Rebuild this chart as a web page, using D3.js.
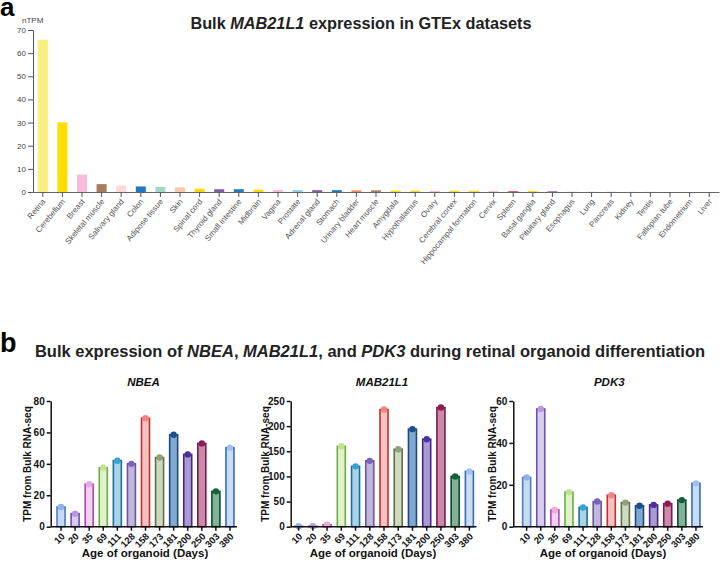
<!DOCTYPE html>
<html><head><meta charset="utf-8">
<script src="https://cdn.jsdelivr.net/npm/d3@7/dist/d3.min.js"></script>
<style>body{margin:0;background:#fff}svg{display:block;font-family:"Liberation Sans",Arial,sans-serif}</style>
</head><body>
<script>
// ---------- Panel a data ----------
const tissues = ["Retina","Cerebellum","Breast","Skeletal muscle","Salivary gland","Colon","Adipose tissue","Skin","Spinal cord","Thyroid gland","Small intestine","Midbrain","Vagina","Prostate","Adrenal gland","Stomach","Urinary bladder","Heart muscle","Amygdala","Hypothalamus","Ovary","Cerebral cortex","Hippocampal formation","Cervix","Spleen","Basal ganglia","Pituitary gland","Esophagus","Lung","Pancreas","Kidney","Testis","Fallopian tube","Endometrium","Liver"];
const nTPM = [65.8,30.1,7.5,3.4,2.8,2.4,2.2,2.0,1.4,1.2,1.2,1.0,0.9,0.8,0.8,0.8,0.7,0.7,0.6,0.6,0.5,0.5,0.5,0.4,0.4,0.4,0.3,0.1,0.1,0.1,0.05,0.05,0,0,0];
const yTicksA = [0,10,20,30,40,50,60,70];
const tissueColors = ["#f8ef7c","#ffdd00","#f6bcd9","#a67d5d","#fcd8d8","#1f78c1","#a0dac4","#fcc6ab","#ffd800","#7b5ea7","#1f78c1","#ffd800","#f6bcd9","#8ccbe9","#7b5ea7","#1f78c1","#f08a50","#a67d5d","#ffd800","#ffd800","#f6bcd9","#ffd800","#ffd800","#f6bcd9","#e05070","#ffd800","#7b5ea7","#bbbbbb","#bbbbbb","#bbbbbb","#bbbbbb","#bbbbbb","#bbbbbb","#bbbbbb","#bbbbbb"];

// ---------- Panel b data ----------
const days = ["10","20","35","69","111","128","158","173","181","200","250","303","380"];
const nbea   = [12.5,8.3,27,37.5,42,40,69,44,58.5,46,53,22.5,50.3];
const mab21l1= [1,1,4,160,120,131,233,154,194,174,237,100,110];
const pdk3   = [23.5,56.2,8,16.5,9.2,12,15,11.5,10,10.4,11,12.7,20.7];
const genes = ["NBEA","MAB21L1","PDK3"];
const yMax = [80,250,60];
const yTicksB = [[0,20,40,60,80],[0,50,100,150,200,250],[0,20,40,60]];
const strokeCols = ["#4a7dc6","#6d50b4","#b444b4","#69ad48","#1f6f96","#6a579e","#c82e30","#5d6e4c","#1c4a7e","#422884","#7c1a48","#0c4c2a","#3a6cb8"];
const fillCols   = ["#c6daf3","#d8cdee","#f2d2f2","#e2f1ca","#a9d4e7","#c2b6dc","#f5c2c2","#cddabe","#80a9d1","#a99ad2","#ca8aaa","#82b39a","#c9ddf5"];
const dotCols    = ["#8db2e8","#b39cdb","#e9a9e2","#c2e292","#34a3d2","#7c62ba","#f08484","#8ca272","#1b508e","#4c309c","#921a52","#11623c","#a0c2ee"];

const W = 720, H = 568;
const svg = d3.select("body").append("svg").attr("width", W).attr("height", H);

// ================= Panel a =================
svg.append("text").attr("x", 0).attr("y", 16).attr("font-size", 26).attr("font-weight", "bold").text("a");
const titleA = svg.append("text").attr("x", 361).attr("y", 29).attr("text-anchor", "middle")
  .attr("font-size", 16.3).attr("font-weight", "bold").attr("fill", "#222");
titleA.append("tspan").text("Bulk ");
titleA.append("tspan").attr("font-style", "italic").text("MAB21L1");
titleA.append("tspan").text(" expression in GTEx datasets");

const xA = d3.scaleBand().domain(tissues).range([33, 719]).paddingInner(0.49).paddingOuter(0.245);
const yA = d3.scaleLinear().domain([0, 70]).range([192, 30]);

svg.append("text").attr("x", 22).attr("y", 23).attr("font-size", 8).attr("fill", "#444").text("nTPM");

svg.append("g").selectAll("rect").data(tissues).join("rect")
  .attr("x", d => xA(d)).attr("width", xA.bandwidth())
  .attr("y", (d, i) => yA(nTPM[i])).attr("height", (d, i) => yA(0) - yA(nTPM[i]))
  .attr("fill", (d, i) => tissueColors[i]);

const gyA = svg.append("g").attr("transform", "translate(33,0)")
  .call(d3.axisLeft(yA).tickValues(yTicksA).tickSize(5).tickPadding(2));
gyA.selectAll("text").attr("font-size", 8).attr("fill", "#444").attr("font-family", "Liberation Sans, Arial");
gyA.selectAll("line,path").attr("stroke", "#555");

const gxA = svg.append("g").attr("transform", "translate(0,192)")
  .call(d3.axisBottom(xA).tickSize(5).tickSizeOuter(0).tickPadding(3));
gxA.select("path").attr("stroke", "#666");
gxA.selectAll("line").attr("stroke", "#555");
gxA.selectAll("text").attr("font-size", 8).attr("fill", "#555").attr("font-family", "Liberation Sans, Arial")
  .attr("text-anchor", "end").attr("x", 0).attr("y", 0).attr("dy", "0.35em")
  .attr("transform", "translate(1,8) rotate(-50)");

// ================= Panel b =================
svg.append("text").attr("x", 0).attr("y", 352).attr("font-size", 27).attr("font-weight", "bold").text("b");
const titleB = svg.append("text").attr("x", 370).attr("y", 357).attr("text-anchor", "middle")
  .attr("font-size", 16.5).attr("font-weight", "bold").attr("fill", "#222");
titleB.append("tspan").text("Bulk expression of ");
titleB.append("tspan").attr("font-style", "italic").text("NBEA");
titleB.append("tspan").text(", ");
titleB.append("tspan").attr("font-style", "italic").text("MAB21L1");
titleB.append("tspan").text(", and ");
titleB.append("tspan").attr("font-style", "italic").text("PDK3");
titleB.append("tspan").text(" during retinal organoid differentiation");

const panels = [
  {vals: nbea,    ax: 50.7,  x0: 54,  x1: 237, yt: 27,  xt: 145},
  {vals: mab21l1, ax: 290.7, x0: 291.5, x1: 476.5, yt: 265, xt: 373},
  {vals: pdk3,    ax: 513.3, x0: 519.6, x1: 703, yt: 492, xt: 603}
];
const y0 = 526.7, y1 = 401;

panels.forEach((p, k) => {
  const g = svg.append("g");
  const x = d3.scaleBand().domain(days).range([p.x0, p.x1]).paddingInner(0.36).paddingOuter(0.18);
  const y = d3.scaleLinear().domain([0, yMax[k]]).range([y0, y1]);
  const bw = 8;
  g.selectAll("rect").data(days).join("rect")
    .attr("x", d => x(d) + x.bandwidth() / 2 - bw / 2).attr("width", bw)
    .attr("y", (d, i) => y(p.vals[i])).attr("height", (d, i) => y0 - y(p.vals[i]))
    .attr("fill", (d, i) => fillCols[i]).attr("stroke", (d, i) => strokeCols[i]).attr("stroke-width", 1.6);
  g.selectAll("circle").data(days).join("circle")
    .attr("cx", d => x(d) + x.bandwidth() / 2).attr("cy", (d, i) => y(p.vals[i]))
    .attr("r", 3.2).attr("fill", (d, i) => dotCols[i]);

  const gy = g.append("g").attr("transform", `translate(${p.ax},0)`)
    .call(d3.axisLeft(y).tickValues(yTicksB[k]).tickSize(4).tickSizeOuter(0).tickPadding(2));
  gy.selectAll("text").attr("font-size", 10).attr("font-weight", "bold").attr("fill", "#111").attr("font-family", "Liberation Sans, Arial");
  gy.selectAll("line,path").attr("stroke", "#111").attr("stroke-width", 1.5);

  const gx = g.append("g").attr("transform", `translate(0,${y0})`)
    .call(d3.axisBottom(x).tickSize(4).tickSizeOuter(0).tickPadding(2));
  gx.select("path").attr("d", `M${p.ax},0H${p.x1}`);
  gx.selectAll("line,path").attr("stroke", "#111").attr("stroke-width", 1.5);
  gx.selectAll("text").attr("font-size", 9.5).attr("font-weight", "bold").attr("fill", "#111").attr("font-family", "Liberation Sans, Arial")
    .attr("text-anchor", "end").attr("x", 0).attr("y", 0).attr("dy", "0.35em")
    .attr("transform", "translate(2,8) rotate(-45)");

  g.append("text").attr("x", p.xt).attr("y", 557).attr("text-anchor", "middle")
    .attr("font-size", 11.5).attr("font-weight", "bold").attr("fill", "#111").text("Age of organoid (Days)");
  g.append("text").attr("transform", `translate(${p.yt},464) rotate(-90)`).attr("text-anchor", "middle")
    .attr("dy", "0.35em").attr("font-size", 10).attr("font-weight", "bold").attr("fill", "#111").text("TPM from Bulk RNA-seq");
  g.append("text").attr("x", (p.x0 + p.x1) / 2 - 2).attr("y", 386).attr("text-anchor", "middle")
    .attr("font-size", 11.5).attr("font-weight", "bold").attr("font-style", "italic").attr("fill", "#111").text(genes[k]);
});
</script>
</body></html>
